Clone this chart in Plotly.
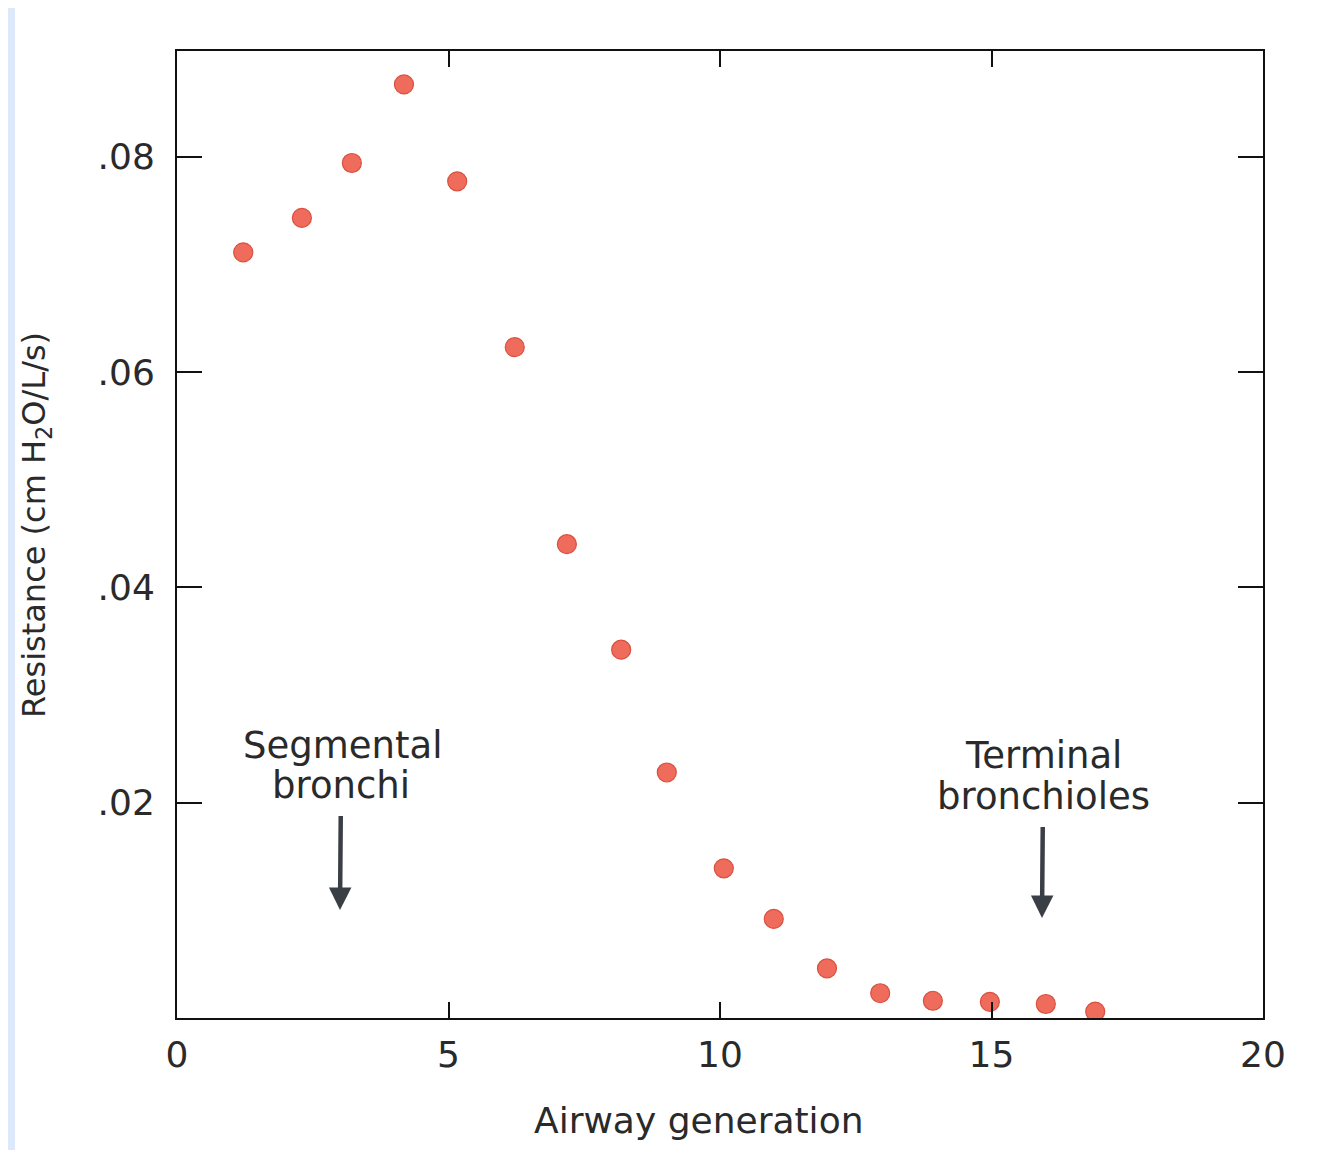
import plotly.graph_objects as go

# Data
generation = [1.22, 2.30, 3.22, 4.18, 5.16, 6.22, 7.18, 8.18, 9.02, 10.07,
              10.99, 11.97, 12.95, 13.92, 14.97, 16.00, 16.91]
resistance = [0.0711, 0.0743, 0.0794, 0.0867, 0.0777, 0.0623, 0.0440, 0.0342,
              0.0228, 0.0139, 0.0092, 0.0046, 0.0023, 0.0016, 0.0015, 0.0013, 0.0006]

x_ticks = [0, 5, 10, 15, 20]
x_tick_labels = ["0", "5", "10", "15", "20"]
y_ticks = [0.02, 0.04, 0.06, 0.08]
y_tick_labels = [".02", ".04", ".06", ".08"]

W, H = 1341, 1150
OFF = 8  # page body offset
L, R, T, B = 177 - OFF, 1263 - OFF, 51 - OFF, 1018 - OFF
pw, ph = R - L, B - T
YMAX = 0.0898


def px(xp):
    return (xp - OFF - L) / pw


def py(yp):
    return (B - (yp - OFF)) / ph


def dx(xp):
    return (xp - OFF - L) / pw * 20


def dy(yp):
    return (B - (yp - OFF)) / ph * YMAX


FONT = "DejaVu Sans, Liberation Sans, Arial, sans-serif"
TXT = "#2a2a2a"
ARW = "#3a3f45"

fig = go.Figure()
fig.add_trace(go.Scatter(
    x=generation, y=resistance, mode="markers",
    marker=dict(size=19, color="#ef6b5b", line=dict(color="#d9503f", width=1.2)),
    showlegend=False, hoverinfo="x+y",
))

fig.update_layout(
    width=W, height=H,
    margin=dict(l=L, r=W - R, t=T, b=H - B, pad=0),
    paper_bgcolor="white", plot_bgcolor="white",
    font=dict(family=FONT, size=35, color=TXT),
    xaxis=dict(
        range=[0, 20], tickvals=x_ticks, ticktext=x_tick_labels,
        ticks="inside", ticklen=16, tickwidth=2, tickcolor="#111",
        showline=True, linecolor="#111", linewidth=2, mirror="ticks",
        showgrid=False, zeroline=False, ticklabelstandoff=4,
        tickfont=dict(size=36, color=TXT),
    ),
    yaxis=dict(
        range=[0, YMAX], tickvals=y_ticks, ticktext=y_tick_labels,
        ticks="inside", ticklen=25, tickwidth=2, tickcolor="#111",
        showline=True, linecolor="#111", linewidth=2, mirror="ticks",
        showgrid=False, zeroline=False, ticklabelstandoff=13,
        tickfont=dict(size=36, color=TXT),
    ),
    shapes=[
        dict(type="rect", xref="paper", yref="paper", layer="below",
             x0=px(0), x1=px(15), y0=py(H + OFF), y1=py(0),
             fillcolor="#dde9fb", line=dict(width=0)),
    ],
    annotations=[
        dict(text="Airway generation", xref="paper", yref="paper",
             x=px(698), y=py(1120), showarrow=False,
             font=dict(size=36, color=TXT), xanchor="center", yanchor="middle"),
        dict(text="Resistance (cm H<sub>2</sub>O/L/s)", xref="paper", yref="paper",
             x=px(36), y=py(525), showarrow=False, textangle=-90,
             font=dict(size=32, color=TXT), xanchor="center", yanchor="middle"),
        dict(text="Segmental", xref="x", yref="y",
             x=dx(342), y=dy(745), showarrow=False,
             font=dict(size=37, color=TXT), xanchor="center", yanchor="middle"),
        dict(text="bronchi", xref="x", yref="y",
             x=dx(340), y=dy(910),
             showarrow=True, axref="pixel", ayref="pixel", ax=1, ay=-(910 - 785),
             startstandoff=8, arrowhead=2, arrowsize=1.0,
             arrowwidth=4.5, arrowcolor=ARW,
             font=dict(size=37, color=TXT)),
        dict(text="Terminal", xref="x", yref="y",
             x=dx(1043), y=dy(755), showarrow=False,
             font=dict(size=37, color=TXT), xanchor="center", yanchor="middle"),
        dict(text="bronchioles", xref="x", yref="y",
             x=dx(1042), y=dy(918),
             showarrow=True, axref="pixel", ayref="pixel", ax=1, ay=-(918 - 796),
             startstandoff=8, arrowhead=2, arrowsize=1.0,
             arrowwidth=4.5, arrowcolor=ARW,
             font=dict(size=37, color=TXT)),
    ],
)

fig.write_html("out.html")
